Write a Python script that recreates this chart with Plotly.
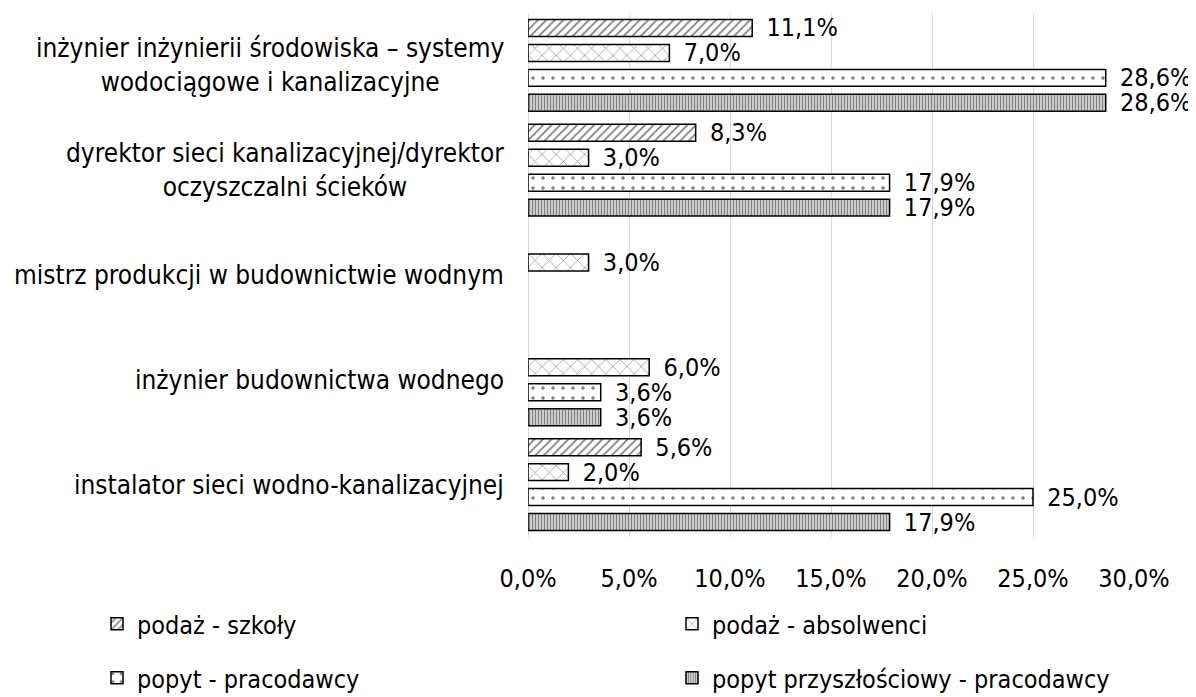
import plotly.graph_objects as go

categories = [
    "inżynier inżynierii środowiska – systemy<br>wodociągowe i kanalizacyjne",
    "dyrektor sieci kanalizacyjnej/dyrektor<br>oczyszczalni ścieków",
    "mistrz produkcji w budownictwie wodnym",
    "inżynier budownictwa wodnego",
    "instalator sieci wodno-kanalizacyjnej",
]
series_names = ["podaż - szkoły", "podaż - absolwenci", "popyt - pracodawcy",
                "popyt przyszłościowy - pracodawcy"]
podaz_szkoly = [11.1, 8.3, None, None, 5.6]
podaz_absolwenci = [7.0, 3.0, 3.0, 6.0, 2.0]
popyt_pracodawcy = [28.6, 17.9, None, 3.6, 25.0]
popyt_przyszlosciowy = [28.6, 17.9, None, 3.6, 17.9]
x_ticks = [0, 5, 10, 15, 20, 25, 30]

series = [podaz_szkoly, podaz_absolwenci, popyt_pracodawcy, popyt_przyszlosciowy]
patterns = [
    dict(shape="/", size=6, solidity=0.3),
    dict(shape="x", size=10, solidity=0.12),
    dict(shape=".", size=10, solidity=0.1),
    dict(shape="|", size=3, solidity=0.6),
]
legend_ids = ["legend", "legend2", "legend3", "legend4"]

FONT = "DejaVu Sans Condensed, DejaVu Sans, sans-serif"
W, H = 1188, 689  # page body has an 8 px margin


def pct(v):
    return f"{v:.1f}".replace(".", ",") + "%"


def fmt(v):
    return "" if v is None else "\u2002" + pct(v)


fig = go.Figure()
for name, vals, pat, lg in zip(series_names, series, patterns, legend_ids):
    fig.add_trace(go.Bar(
        y=categories, x=vals, orientation="h", name=name,
        text=[fmt(v) for v in vals], textposition="outside",
        textfont=dict(size=25, color="black", family=FONT),
        constraintext="none", cliponaxis=False, showlegend=True,
        marker=dict(color="white", line=dict(color="black", width=1.5),
                    pattern=dict(fgcolor="black", bgcolor="white", fillmode="overlay", **pat)),
        legend=lg,
    ))

for c in categories:
    fig.add_annotation(
        x=0, xref="paper", xanchor="right", xshift=-22,
        y=c, yref="y", yanchor="middle",
        text=c, showarrow=False, align="center",
        font=dict(size=26, color="black", family=FONT),
    )

leg_common = dict(orientation="h", xref="container", yref="container",
                  xanchor="left", yanchor="middle", visible=True,
                  font=dict(size=25, family=FONT, color="black"),
                  bgcolor="rgba(0,0,0,0)")
row_y = [1 - 616 / H, 1 - 616 / H, 1 - 670 / H, 1 - 670 / H]
col_x = [89 / W, 664 / W, 89 / W, 664 / W]

layout_legends = {}
for lg, lx, ly in zip(legend_ids, col_x, row_y):
    layout_legends[lg] = dict(x=lx, y=ly, **leg_common)

fig.update_layout(
    width=W, height=H, showlegend=True,
    margin=dict(l=519.5, r=62, t=4.5, b=159.5),
    paper_bgcolor="white", plot_bgcolor="white",
    barmode="group", bargap=0.048, bargroupgap=0.32,
    font=dict(family=FONT, size=25, color="black"),
    xaxis=dict(range=[0, 30], tickvals=x_ticks, ticktext=[pct(t) for t in x_ticks],
               showgrid=True, gridcolor="#d9d9d9", gridwidth=1,
               zeroline=True, zerolinecolor="#d9d9d9", zerolinewidth=1,
               showline=False, ticks="outside", ticklen=19, tickcolor="rgba(0,0,0,0)",
               tickfont=dict(size=25, family=FONT, color="black")),
    yaxis=dict(autorange="reversed", showticklabels=False, showgrid=False,
               showline=False, ticks="", type="category"),
    **layout_legends,
)

fig.write_html("out.html")
